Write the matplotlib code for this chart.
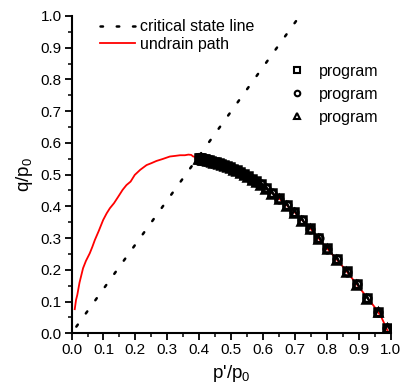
import matplotlib
matplotlib.use("Agg")
import matplotlib.pyplot as plt
from matplotlib.lines import Line2D

plt.rcParams["font.family"] = ["Liberation Sans", "DejaVu Sans"]
plt.rcParams["mathtext.default"] = "regular"

# critical state line (dotted)
csl_p = [0.015, 0.715]
csl_q = [0.021, 1.0]

# undrained stress path (red)
path_p = [0.010, 0.014, 0.018, 0.025, 0.036, 0.045, 0.057, 0.065, 0.073, 0.085, 0.099, 0.110,
          0.120, 0.133, 0.146, 0.160, 0.172, 0.185, 0.198, 0.215, 0.235, 0.250, 0.266, 0.285,
          0.308, 0.325, 0.340, 0.355, 0.366, 0.375, 0.381, 0.392, 0.400, 0.450, 0.500, 0.550,
          0.600, 0.650, 0.700, 0.750, 0.800, 0.850, 0.900, 0.950, 0.970, 0.992]
path_q = [0.076, 0.105, 0.121, 0.160, 0.205, 0.228, 0.252, 0.272, 0.294, 0.322, 0.357, 0.378,
          0.394, 0.410, 0.430, 0.452, 0.467, 0.478, 0.499, 0.515, 0.530, 0.536, 0.543, 0.549,
          0.557, 0.559, 0.561, 0.561, 0.563, 0.562, 0.557, 0.556, 0.553, 0.540, 0.522, 0.497,
          0.465, 0.425, 0.380, 0.328, 0.268, 0.210, 0.146, 0.082, 0.052, 0.004]

# program results (three runs)
sq_p = [0.987, 0.960, 0.925, 0.893, 0.862, 0.831, 0.800, 0.773, 0.747, 0.721, 0.697, 0.674,
        0.650, 0.627, 0.608, 0.592, 0.578, 0.565, 0.552, 0.540, 0.528, 0.517, 0.507, 0.497,
        0.487, 0.478, 0.469, 0.461, 0.453, 0.445, 0.438, 0.431, 0.425, 0.419, 0.414, 0.409,
        0.405, 0.401, 0.398]
sq_q = [0.018, 0.068, 0.112, 0.155, 0.195, 0.234, 0.268, 0.300, 0.331, 0.357, 0.383, 0.404,
        0.425, 0.443, 0.458, 0.470, 0.479, 0.487, 0.495, 0.502, 0.508, 0.514, 0.518, 0.523,
        0.527, 0.531, 0.534, 0.537, 0.539, 0.541, 0.543, 0.545, 0.547, 0.548, 0.549, 0.550,
        0.551, 0.552, 0.552]
ci_p = [0.988, 0.961, 0.926, 0.894, 0.863, 0.832, 0.801, 0.774, 0.748, 0.722, 0.698, 0.675,
        0.651, 0.628, 0.609, 0.593, 0.579, 0.566, 0.553, 0.541, 0.529, 0.518, 0.508, 0.498,
        0.488, 0.479, 0.470, 0.462, 0.454, 0.446, 0.439, 0.432, 0.426, 0.420, 0.415, 0.410,
        0.406, 0.402, 0.399]
ci_q = [0.017, 0.067, 0.111, 0.154, 0.194, 0.233, 0.267, 0.299, 0.330, 0.356, 0.382, 0.403,
        0.424, 0.442, 0.457, 0.469, 0.478, 0.486, 0.494, 0.501, 0.507, 0.513, 0.517, 0.522,
        0.526, 0.530, 0.533, 0.536, 0.538, 0.540, 0.542, 0.544, 0.546, 0.547, 0.548, 0.549,
        0.550, 0.551, 0.551]
tr_p = [0.988, 0.959, 0.924, 0.892, 0.861, 0.830, 0.799, 0.772, 0.746, 0.720, 0.696, 0.673,
        0.649, 0.626, 0.607, 0.591, 0.577, 0.564, 0.551, 0.539, 0.527, 0.516, 0.506, 0.496,
        0.486, 0.477, 0.468, 0.460, 0.452, 0.444, 0.437, 0.430, 0.424, 0.418, 0.413, 0.408,
        0.404, 0.400, 0.397]
tr_q = [0.016, 0.066, 0.109, 0.152, 0.192, 0.231, 0.265, 0.297, 0.328, 0.354, 0.380, 0.401,
        0.422, 0.440, 0.455, 0.467, 0.476, 0.484, 0.492, 0.499, 0.505, 0.511, 0.515, 0.520,
        0.524, 0.528, 0.531, 0.534, 0.536, 0.538, 0.540, 0.542, 0.544, 0.545, 0.546, 0.547,
        0.548, 0.549, 0.549]

fig = plt.figure(figsize=(4.02, 3.88), dpi=100)
ax = fig.add_axes([0.178, 0.141, 0.794, 0.818])

csl, = ax.plot(csl_p, csl_q, color="black", linestyle=(0, (1, 5.5)), linewidth=1.8,
               dash_capstyle="round")
red, = ax.plot(path_p, path_q, color="#ff0000", linewidth=1.3)
mk = dict(color="black", linestyle="none", markersize=5.5, markeredgewidth=1.8, markerfacecolor="none")
ax.plot(sq_p, sq_q, marker="s", **mk)
ax.plot(ci_p, ci_q, marker="o", **mk)
ax.plot(tr_p, tr_q, marker="^", **mk)

ax.set_xlim(0, 1.0)
ax.set_ylim(0, 1.0)
ax.set_xticks([i / 10 for i in range(11)])
ax.set_yticks([i / 10 for i in range(11)])
ax.set_xticks([i / 20 for i in range(21)], minor=True)
ax.set_yticks([i / 20 for i in range(21)], minor=True)
ax.xaxis.set_major_formatter(matplotlib.ticker.FormatStrFormatter("%.1f"))
ax.yaxis.set_major_formatter(matplotlib.ticker.FormatStrFormatter("%.1f"))
ax.tick_params(which="major", direction="out", length=5, width=1.3, labelsize=11, pad=2)
ax.tick_params(which="minor", direction="out", length=3, width=1.1)
for s in ("top", "right"):
    ax.spines[s].set_visible(False)
for s in ("left", "bottom"):
    ax.spines[s].set_linewidth(1.5)

ax.set_xlabel("p'/p$_0$", fontsize=13.5, labelpad=4)
ax.set_ylabel("q/p$_0$", fontsize=13.5, labelpad=4)

leg1 = ax.legend([csl, red], ["critical state line", "undrain path"], loc="upper left",
                 bbox_to_anchor=(0.055, 1.025), frameon=False, fontsize=11.5,
                 handlelength=2.2, handletextpad=0.3, labelspacing=0.15, borderpad=0.2)
ax.add_artist(leg1)
h = [Line2D([], [], marker=m, color="black", linestyle="none", markersize=4,
            markeredgewidth=1.5, markerfacecolor="none") for m in ("s", "o", "^")]
ax.legend(h, ["program", "program", "program"], loc="upper left",
          bbox_to_anchor=(0.645, 0.885), frameon=False, fontsize=11.5,
          handlelength=1.0, handletextpad=0.9, labelspacing=0.5, borderpad=0.2)

fig.savefig("out.png", dpi=100)
